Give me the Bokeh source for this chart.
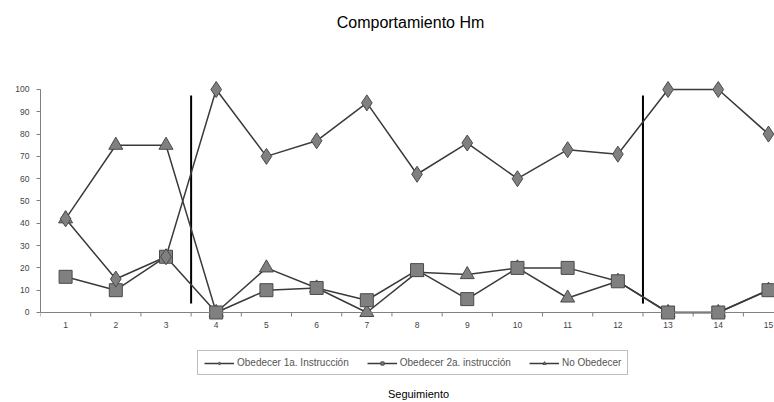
from bokeh.plotting import figure
from bokeh.models import FixedTicker, Legend, LegendItem, Label, Span, Range1d
from bokeh.core.properties import value
from bokeh.embed import file_html
from bokeh.resources import INLINE

sessions = list(range(1, 16))
session_labels = [str(s) for s in sessions]
obedecer_1a = [42, 15, 25, 100, 70, 77, 94, 62, 76, 60, 73, 71, 100, 100, 80]
obedecer_2a = [16, 10, 25, 0, 10, 11, 5.5, 19, 6, 20, 20, 14, 0, 0, 10]
no_obedecer = [42, 75, 75, 0, 20, 11, 0, 18, 17, 20, 6.5, 14, 0, 0, 10]
phase_changes = [3.5, 12.5]
y_ticks = list(range(0, 101, 10))

FONT = "Liberation Sans"
PX_PER_UNIT = 2.23

p = figure(width=774, height=402,
           x_range=Range1d(0.5, 15.12), y_range=Range1d(-40.36, 139.91),
           output_backend="svg", toolbar_location=None,
           min_border_left=40, min_border_right=0,
           min_border_top=0, min_border_bottom=0)
p.outline_line_color = None
p.xgrid.visible = False
p.ygrid.visible = False
p.xaxis.visible = False

# y axis
ya = p.yaxis[0]
ya.bounds = (0, 100)
ya.ticker = FixedTicker(ticks=y_ticks, minor_ticks=[])
ya.major_tick_out = 4
ya.major_tick_in = 0
ya.major_tick_line_color = "#808080"
ya.axis_line_color = "#808080"
ya.major_label_text_font = FONT
ya.major_label_text_font_size = "8.5px"
ya.major_label_text_color = "#444444"
ya.major_label_standoff = 7

# category axis at y = 0
p.add_layout(Span(location=0, dimension="width", line_color="#808080", line_width=1))
tick_x = [s - 0.5 for s in sessions] + [sessions[-1] + 0.5]
p.segment(x0=tick_x, y0=[0] * len(tick_x), x1=tick_x, y1=[-4 / PX_PER_UNIT] * len(tick_x),
          line_color="#808080", line_width=1)
p.text(x=sessions, y=[-13 / PX_PER_UNIT] * len(sessions), text=session_labels,
       text_font=value(FONT), text_font_size="8.5px", text_color="#444444",
       text_align="center", text_baseline="middle")

# phase-change lines
for xc in phase_changes:
    p.segment(x0=[xc], y0=[4], x1=[xc], y1=[97.3], line_color="black", line_width=2)

line_col = "#3a3a3a"
fill_col = "#808080"
edge_col = "#4a4a4a"

l1 = p.line(sessions, obedecer_1a, line_color=line_col, line_width=1.5)
l2 = p.line(sessions, obedecer_2a, line_color=line_col, line_width=1.5)
l3 = p.line(sessions, no_obedecer, line_color=line_col, line_width=1.5)
m3 = p.scatter(sessions, no_obedecer, marker="triangle", size=14,
               fill_color=fill_col, line_color=edge_col)
m2 = p.scatter(sessions, obedecer_2a, marker="square", size=13,
               fill_color=fill_col, line_color=edge_col)
m1 = p.scatter(sessions, obedecer_1a, marker="diamond", size=16,
               fill_color=fill_col, line_color=edge_col)

legend = Legend(items=[
    LegendItem(label="Obedecer 1a. Instrucción", renderers=[l1, m1]),
    LegendItem(label="Obedecer 2a. instrucción", renderers=[l2, m2]),
    LegendItem(label="No Obedecer", renderers=[l3, m3]),
], orientation="horizontal", location=(157, 27))
legend.label_text_font = FONT
legend.label_text_font_size = "10px"
legend.label_text_color = "#555555"
legend.glyph_width = 30
legend.glyph_height = 8
legend.spacing = 18
legend.padding = 6
legend.margin = 0
legend.label_standoff = 3
legend.border_line_color = "#808080"
legend.border_line_width = 1
legend.background_fill_alpha = 0
p.add_layout(legend, "center")

title = Label(x=370, y=380, x_units="screen", y_units="screen",
              text="Comportamiento Hm", text_align="center", text_baseline="middle",
              text_font=FONT, text_font_size="16px", text_color="black")
p.add_layout(title)

xlab = Label(x=378, y=9, x_units="screen", y_units="screen",
             text="Seguimiento", text_align="center", text_baseline="middle",
             text_font=FONT, text_font_size="11px", text_color="black")
p.add_layout(xlab)

open("out.html", "w").write(file_html(p, INLINE))
